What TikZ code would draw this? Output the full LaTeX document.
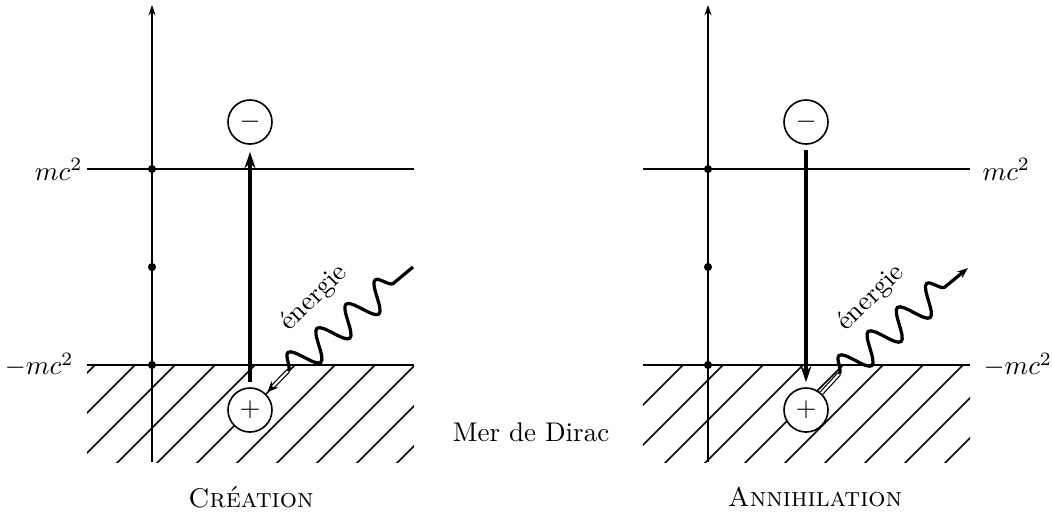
\documentclass[tikz,border=0pt]{standalone}
\usetikzlibrary{arrows.meta,decorations.pathmorphing}
\begin{document}
\begin{tikzpicture}[x=0.3704pt,y=-0.3704pt,
  thinline/.style={line width=0.6pt},
  hatchline/.style={line width=0.55pt},
  axisline/.style={line width=0.6pt,-{Stealth[length=3.8pt,width=2.6pt]}},
  dotnode/.style={circle,fill=black,inner sep=0pt,minimum size=3pt},
  particle/.style={circle,draw,line width=0.6pt,fill=white,minimum size=16.3pt,inner sep=0pt},
  jump/.style={line width=1.7pt,-{Stealth[length=6pt,width=4pt]}},
  photon/.style={line width=1.2pt,decorate,decoration={snake,amplitude=5.3pt,segment length=14pt,post length=5pt}},
  dbl/.style={double,double distance=0.8pt,line width=0.45pt},
  lbl/.style={inner sep=0pt}
]
\useasboundingbox (0,0) rectangle (1052,516);

% ---------- hatching (Dirac sea) ----------
\begin{scope}
  \clip (87,365) rectangle (414,462);
  \foreach \a in {95,135,...,495} \draw[hatchline] (\a,365) -- ++(-110,110);
\end{scope}
\begin{scope}
  \clip (643,365) rectangle (970,462);
  \foreach \a in {683,723,...,1043} \draw[hatchline] (\a,365) -- ++(-110,110);
\end{scope}

% ---------- left diagram : Creation ----------
\coordinate (la1) at (87,169);  \coordinate (lb1) at (414,169);
\coordinate (la2) at (87,365);  \coordinate (lb2) at (414,365);
\draw[thinline] (la1) -- (lb1);
\draw[thinline] (la2) -- (lb2);
\coordinate (lax0) at (152,462); \coordinate (lax1) at (152,5);
\draw[axisline] (lax0) -- (lax1);
\node[dotnode] (ld1) at (152,169) {};
\node[dotnode] (ld2) at (152,267) {};
\node[dotnode] (ld3) at (152,365) {};
\node[lbl,anchor=east] (lmc) at (83,169) {$mc^2$};
\node[lbl,anchor=east] (lmmc) at (74,365) {$-mc^2$};

\node[particle] (m1) at (250,122) {$-$};
\node[particle] (p1) at (250,410) {$+$};
\draw[jump,shorten <=1.85pt,shorten >=2.6pt] (p1) -- (m1);

\coordinate (j1) at (288,371);
\coordinate (e1) at (413,267);
\draw[dbl,-{Stealth[length=4pt,width=3.5pt]},shorten >=0.8pt] (j1) -- (p1);
\draw[photon] (j1) -- (e1);
\node[rotate=45] (t1) at (314,298) {énergie};
\node (c1) at (251,497) {\textsc{Création}};

% ---------- right diagram : Annihilation ----------
\coordinate (ra1) at (643,169);  \coordinate (rb1) at (970,169);
\coordinate (ra2) at (643,365);  \coordinate (rb2) at (970,365);
\draw[thinline] (ra1) -- (rb1);
\draw[thinline] (ra2) -- (rb2);
\coordinate (rax0) at (708,462); \coordinate (rax1) at (708,5);
\draw[axisline] (rax0) -- (rax1);
\node[dotnode] (rd1) at (708,169) {};
\node[dotnode] (rd2) at (708,267) {};
\node[dotnode] (rd3) at (708,365) {};
\node[lbl,anchor=west] (rmc) at (982,169) {$mc^2$};
\node[lbl,anchor=west] (rmmc) at (983,365) {$-mc^2$};

\node[particle] (m2) at (806,122) {$-$};
\node[particle] (p2) at (806,410) {$+$};
\draw[jump,shorten <=1.85pt,shorten >=1.85pt] (m2) -- (p2);

\coordinate (j2) at (839,374);
\coordinate (e2) at (968,268);
\draw[dbl] (p2) -- (j2);
\draw[photon,-{Stealth[length=4pt,width=3pt]}] (j2) -- (e2);
\node[rotate=45] (t2) at (871,298) {énergie};
\node (c2) at (815,497) {\textsc{Annihilation}};

% ---------- middle label ----------
\node (mer) at (531,432) {Mer de Dirac};
\end{tikzpicture}
\end{document}
